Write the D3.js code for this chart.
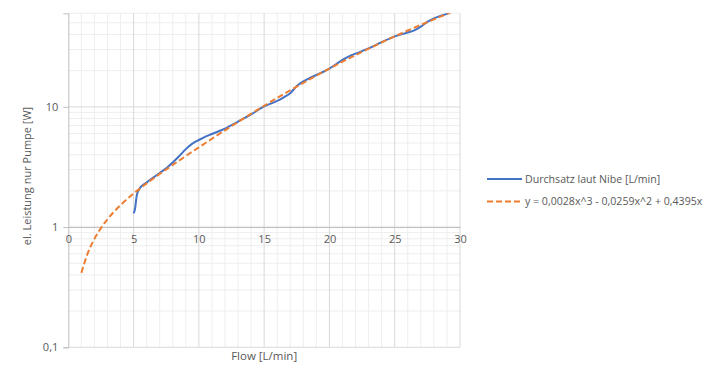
<!DOCTYPE html>
<html><head><meta charset="utf-8">
<script src="https://cdn.jsdelivr.net/npm/d3@7"></script>
<style>
body{margin:0;background:#fff;}
text{font-family:"Open Sans",sans-serif;fill:#595959;}
</style></head>
<body><svg id="c" width="714" height="380"></svg>
<script>
// Data
const flowNibe = [5.0,5.1,5.25,5.5,6,6.5,7,7.5,8,8.5,9,9.5,10,10.5,11,12,13,14,15,16,16.5,17,17.5,18,18.5,19,20,20.5,21,21.5,22,23,24,25,26,26.5,27,27.5,28,28.5,29.1];
const powerNibe = [1.30,1.40,1.85,2.12,2.35,2.58,2.82,3.08,3.45,3.90,4.45,4.95,5.30,5.65,5.95,6.60,7.55,8.65,10.1,11.2,12.0,13.0,14.9,16.3,17.4,18.4,20.8,22.6,24.6,26.3,27.7,30.6,34.5,38.6,41.5,43.3,46.5,51.0,54.5,57.0,60.0];
const flowTrend = [1,1.5,2,2.5,3,4,5,6,7,8,9,10,11,12,13,14,15,16,17,18,19,20,21,22,23,24,25,26,27,28,29,29.3];
const powerTrend = [0.416,0.610,0.798,0.981,1.161,1.523,1.900,2.309,2.768,3.292,3.899,4.605,5.427,6.383,7.488,8.760,10.215,11.870,13.743,15.849,18.206,20.830,23.738,26.948,30.475,34.337,38.550,43.131,48.098,53.466,59.253,61.07];
const xTicks = [0,5,10,15,20,25,30];
const yTicks = [0.1,1,10];
const seriesNames = ["Durchsatz laut Nibe [L/min]","y = 0,0028x^3 - 0,0259x^2 + 0,4395x"];
const xTitle = "Flow [L/min]";
const yTitle = "el. Leistung nur Pumpe [W]";

const FS = "11px";
const FONT = "'Open Sans',sans-serif";
const svg = d3.select("#c");
const L=68.3, R=460, T=13.3, B=347.3;
const x = d3.scaleLinear().domain([0,30]).range([L,R]);
const y = d3.scaleLog().domain([0.1,60]).range([B,T]);

// minor gridlines
const minorX = d3.range(0,31).filter(v=>v%5!==0);
svg.append("g").selectAll("line").data(minorX).join("line")
  .attr("x1",d=>x(d)).attr("x2",d=>x(d)).attr("y1",T).attr("y2",B)
  .attr("stroke","#eeeeee").attr("stroke-width",1);
const minorY = [];
[0.1,1,10].forEach(b=>{for(let k=2;k<=9;k++){const v=b*k; if(v<=60) minorY.push(v);}});
svg.append("g").selectAll("line").data(minorY).join("line")
  .attr("x1",L).attr("x2",R).attr("y1",d=>y(d)).attr("y2",d=>y(d))
  .attr("stroke","#eeeeee").attr("stroke-width",1);
// major gridlines
svg.append("g").selectAll("line").data(xTicks.filter(d=>d>0)).join("line")
  .attr("x1",d=>x(d)).attr("x2",d=>x(d)).attr("y1",T).attr("y2",B)
  .attr("stroke","#d9d9d9").attr("stroke-width",1);
svg.append("g").selectAll("line").data(yTicks).join("line")
  .attr("x1",L).attr("x2",R).attr("y1",d=>y(d)).attr("y2",d=>y(d))
  .attr("stroke","#d9d9d9").attr("stroke-width",1);

// y axis
const yAxis = d3.axisLeft(y).tickValues(yTicks).tickSize(5).tickPadding(5)
  .tickFormat(d=>String(d).replace(".",","));
const gy = svg.append("g").attr("transform",`translate(${L},0)`).call(yAxis);
gy.select(".domain").attr("stroke","#bfbfbf");
gy.selectAll(".tick line").attr("stroke","#bfbfbf");
gy.selectAll("text").attr("font-size",FS).style("font-family",FONT).attr("fill","#595959");

// x axis crossing at y=1
const xAxis = d3.axisBottom(x).tickValues(xTicks).tickSize(0).tickPadding(8);
const gx = svg.append("g").attr("transform",`translate(0,${y(1)})`).call(xAxis);
gx.select(".domain").attr("stroke","#bfbfbf");
gx.selectAll("text").attr("font-size",FS).style("font-family",FONT).attr("fill","#595959");

// clip
svg.append("clipPath").attr("id","clip").append("rect")
  .attr("x",L).attr("y",T).attr("width",R-L).attr("height",B-T);

const line = d3.line().x(d=>x(d[0])).y(d=>y(d[1])).curve(d3.curveMonotoneX);
const nibe = flowNibe.map((f,i)=>[f,powerNibe[i]]);
const trend = flowTrend.map((f,i)=>[f,powerTrend[i]]);

svg.append("path").attr("clip-path","url(#clip)").datum(nibe).attr("d",line)
  .attr("fill","none").attr("stroke","#4472c4").attr("stroke-width",2).attr("stroke-linejoin","round");
svg.append("path").attr("clip-path","url(#clip)").datum(trend).attr("d",line)
  .attr("fill","none").attr("stroke","#ed7d31").attr("stroke-width",2).attr("stroke-dasharray","6,3");

// titles
svg.append("text").attr("x",(L+R)/2).attr("y",360).attr("text-anchor","middle")
  .attr("font-size","11.5px").text(xTitle);
svg.append("text").attr("transform","translate(31,176) rotate(-90)").attr("text-anchor","middle")
  .attr("font-size",FS).text(yTitle);

// legend
const leg = svg.append("g");
const ly = [179,201.5];
const styles = [{c:"#4472c4",d:null},{c:"#ed7d31",d:"6,3"}];
seriesNames.forEach((n,i)=>{
  const l = leg.append("line").attr("x1",487).attr("x2",522).attr("y1",ly[i]).attr("y2",ly[i])
    .attr("stroke",styles[i].c).attr("stroke-width",2);
  if(styles[i].d) l.attr("stroke-dasharray",styles[i].d);
  leg.append("text").attr("x",525).attr("y",ly[i]).attr("dy","0.35em").attr("font-size","10.6px").text(n);
});
</script></body></html>
